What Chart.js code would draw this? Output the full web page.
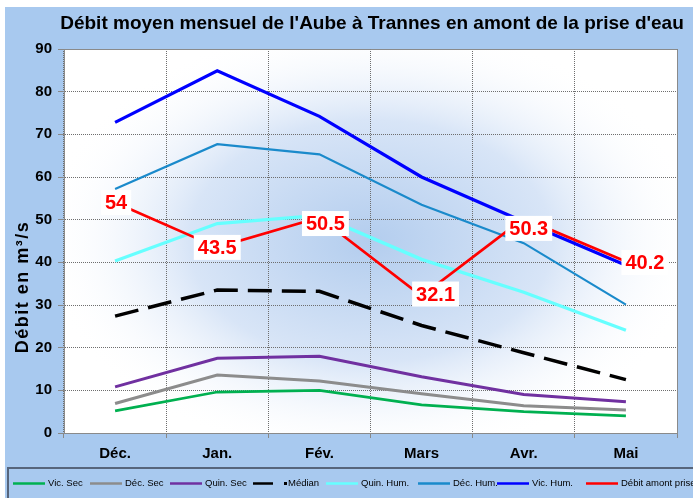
<!DOCTYPE html>
<html>
<head>
<meta charset="utf-8">
<script src="https://cdn.jsdelivr.net/npm/chart.js@4.4.1/dist/chart.umd.min.js"></script>
<style>
html,body{margin:0;padding:0;background:#fff;}
#c{display:block;}
</style>
</head>
<body>
<canvas id="c" width="693" height="498"></canvas>
<script>
const categories = ['Déc.', 'Jan.', 'Fév.', 'Mars', 'Avr.', 'Mai'];
const vicSec  = [5.2, 9.6, 10.0, 6.6, 5.0, 4.0];
const decSec  = [6.9, 13.6, 12.2, 9.2, 6.4, 5.4];
const quinSec = [10.8, 17.5, 18.0, 13.2, 9.0, 7.3];
const median  = [27.4, 33.5, 33.2, 25.2, 18.8, 12.5];
const quinHum = [40.3, 49.1, 51.0, 40.7, 33.0, 24.1];
const decHum  = [57.2, 67.7, 65.3, 53.5, 44.5, 30.1];
const vicHum  = [72.8, 84.9, 74.2, 60.0, 49.5, 39.3];
const debit   = [54, 43.5, 50.5, 32.1, 50.3, 40.2];
const yTicks  = [0, 10, 20, 30, 40, 50, 60, 70, 80, 90];

const seriesNames = ['Vic. Sec', 'Déc. Sec', 'Quin. Sec', 'Médian', 'Quin. Hum.', 'Déc. Hum.', 'Vic. Hum.', 'Débit amont prise d\'eau'];
const seriesColors = ['#00b050', '#8c8c8c', '#7030a0', '#000000', '#66ffff', '#1a8acb', '#0000ff', '#ff0000'];
const seriesWidths = [2.7, 3, 3, 3.5, 3.3, 2.2, 3.2, 2.7];
const seriesValues = [vicSec, decSec, quinSec, median, quinHum, decHum, vicHum, debit];

// label nudges (px) for the red data labels, as placed in the original
const labelNudge = [[1, 0], [0, 0], [6, 6], [14, -2], [5, 10], [19, 1]];
// legend item x positions (line start)
const legendX = [13, 90, 170, 253, 326, 418, 497, 586];

const FONT = '"Liberation Sans", Arial, sans-serif';

const datasets = seriesValues.map((vals, i) => ({
  label: seriesNames[i],
  data: vals,
  borderColor: seriesColors[i],
  backgroundColor: seriesColors[i],
  borderWidth: seriesWidths[i],
  borderDash: i === 3 ? [24, 10] : [],
  pointRadius: 0,
  tension: 0,
  fill: false,
  order: seriesValues.length - i
}));

const decorPlugin = {
  id: 'decor',
  beforeDraw(chart) {
    const ctx = chart.ctx;
    const a = chart.chartArea;
    ctx.save();
    ctx.fillStyle = '#ffffff';
    ctx.fillRect(0, 0, chart.width, chart.height);
    ctx.fillStyle = '#a8c9ef';
    ctx.fillRect(5, 7, chart.width - 5, chart.height - 7);
    ctx.fillStyle = '#ffffff';
    ctx.fillRect(a.left, a.top, a.right - a.left, a.bottom - a.top);
    ctx.save();
    ctx.beginPath();
    ctx.rect(a.left, a.top, a.right - a.left, a.bottom - a.top);
    ctx.clip();
    const cx = a.left + (a.right - a.left) * 0.5, cy = a.top + (a.bottom - a.top) * 0.5;
    ctx.translate(cx, cy);
    ctx.scale(1.5, 1);
    const g = ctx.createRadialGradient(0, 0, 0, 0, 0, 220);
    g.addColorStop(0, '#b3cdee');
    g.addColorStop(0.55, '#d8e5f7');
    g.addColorStop(1, 'rgba(255,255,255,0)');
    ctx.fillStyle = g;
    ctx.fillRect(-300, -300, 600, 600);
    ctx.restore();
    ctx.restore();
  },
  afterDatasetsDraw(chart) {
    const ctx = chart.ctx;
    const meta = chart.getDatasetMeta(7);
    ctx.save();
    ctx.font = 'bold 20px ' + FONT;
    ctx.textAlign = 'center';
    ctx.textBaseline = 'middle';
    meta.data.forEach((pt, i) => {
      const txt = String(debit[i]);
      const x = pt.x + labelNudge[i][0];
      const y = pt.y + labelNudge[i][1];
      const w = ctx.measureText(txt).width + 8;
      ctx.fillStyle = '#ffffff';
      ctx.fillRect(x - w / 2, y - 12.5, w, 25);
      ctx.fillStyle = '#ff0000';
      ctx.fillText(txt, x, y + 1);
    });
    ctx.restore();
  },
  afterDraw(chart) {
    const ctx = chart.ctx;
    const a = chart.chartArea;
    ctx.save();
    ctx.strokeStyle = '#8a8a8a';
    ctx.lineWidth = 1;
    ctx.beginPath();
    ctx.moveTo(a.left, a.top + 0.5);
    ctx.lineTo(a.right + 0.5, a.top + 0.5);
    ctx.lineTo(a.right + 0.5, a.bottom);
    ctx.stroke();
    // title
    ctx.fillStyle = '#000';
    ctx.font = 'bold 19px ' + FONT;
    ctx.textAlign = 'center';
    ctx.textBaseline = 'middle';
    ctx.fillText("Débit moyen mensuel de l'Aube à Trannes en amont de la prise d'eau", 372, 24);
    // y axis title
    ctx.save();
    ctx.translate(23, 287);
    ctx.rotate(-Math.PI / 2);
    ctx.font = 'bold 18px ' + FONT;
    ctx.letterSpacing = '1.5px';
    ctx.fillText('Débit en m³/s', 0, 0);
    ctx.restore();
    ctx.letterSpacing = '0px';
    // legend box
    ctx.strokeStyle = '#56657c';
    ctx.lineWidth = 2;
    ctx.strokeRect(8, 468, chart.width + 10, 40);
    // legend items
    ctx.font = '9.5px ' + FONT;
    ctx.textAlign = 'left';
    ctx.textBaseline = 'middle';
    const ly = 483.5;
    chart.data.datasets.forEach((ds, i) => {
      const x0 = legendX[i];
      ctx.strokeStyle = ds.borderColor;
      ctx.lineWidth = 2.5;
      ctx.setLineDash([]);
      ctx.beginPath();
      ctx.fillStyle = '#000';
      if (i === 3) {
        ctx.moveTo(x0, ly); ctx.lineTo(x0 + 20, ly);
        ctx.stroke();
        ctx.fillRect(x0 + 31, ly - 1.5, 3, 3);
      } else {
        ctx.moveTo(x0, ly); ctx.lineTo(x0 + 32, ly);
        ctx.stroke();
      }
      ctx.fillText(ds.label, x0 + 35, ly);
    });
    ctx.restore();
  }
};

new Chart(document.getElementById('c'), {
  type: 'line',
  data: { labels: categories, datasets },
  plugins: [decorPlugin],
  options: {
    responsive: false,
    animation: false,
    devicePixelRatio: 1,
    layout: { padding: { top: 49, right: 16, left: 0, bottom: 0 } },
    plugins: { legend: { display: false }, title: { display: false }, tooltip: { enabled: false } },
    scales: {
      x: {
        offset: true,
        grid: { offset: true, color: '#6e6e6e', lineWidth: 1, tickLength: 5, tickColor: '#888', tickBorderDash: [] },
        border: { color: '#8a8a8a', width: 1, dash: [1, 1] },
        ticks: { color: '#000', font: { family: FONT, size: 15, weight: 'bold' }, padding: 7 },
        afterFit(s) { s.height = 65; }
      },
      y: {
        min: 0, max: 90,
        afterBuildTicks(s) { s.ticks = yTicks.map(v => ({ value: v })); },
        grid: { color: '#6e6e6e', lineWidth: 1, tickLength: 6, tickColor: '#888', tickBorderDash: [] },
        border: { color: '#8a8a8a', width: 1, dash: [1, 1] },
        ticks: { color: '#000', font: { family: FONT, size: 15, weight: 'bold' }, padding: 6 },
        afterFit(s) { s.width = 64; }
      }
    }
  }
});
</script>
</body>
</html>
